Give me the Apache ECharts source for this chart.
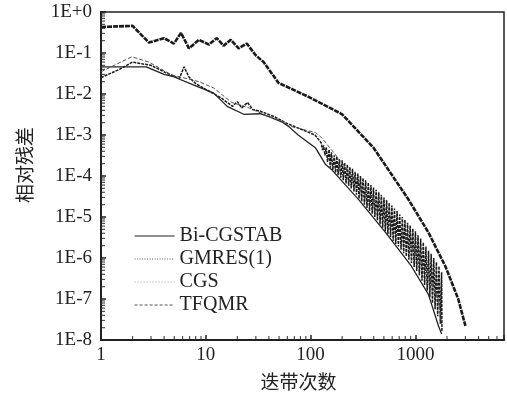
<!DOCTYPE html>
<html>
<head>
<meta charset="utf-8">
<script src="https://cdn.jsdelivr.net/npm/echarts@6/dist/echarts.min.js"></script>
<style>
  html, body { margin: 0; padding: 0; background: #fff; }
  #chart { width: 507px; height: 396px; }
</style>
</head>
<body>
<div id="chart"></div>
<script>
// tick labels
const xTickLabels = ['1', '10', '100', '1000'];
const yTickLabels = ['1E+0', '1E-1', '1E-2', '1E-3', '1E-4', '1E-5', '1E-6', '1E-7', '1E-8'];

// minor tick mantissas per decade
const minorMantissas = [2, 3, 4, 5, 6, 7, 8, 9];

// [iteration, relative residual]
const biCgstab = [
  [1, 4.6e-2], [2.7, 4.6e-2], [4, 3.0e-2], [5, 2.6e-2], [7.7, 1.65e-2], [11.9, 1.05e-2],
  [16, 5.0e-3], [23, 3.2e-3], [33, 3.3e-3], [40, 2.8e-3], [53, 2.1e-3], [62, 1.6e-3],
  [76, 1.0e-3], [111, 4.9e-4], [139, 1.9e-4], [158, 1.45e-4], [286, 2.7e-5], [518, 4.2e-6],
  [916, 6.3e-7], [1330, 1.3e-7], [1660, 2.2e-8], [1780, 1.4e-8]
];

const gmres1 = [
  [1, 0.43], [2, 0.46], [2.86, 0.18], [4, 0.23], [4.96, 0.17], [5.8, 0.31], [6.9, 0.13],
  [8.6, 0.21], [10.7, 0.16], [12.7, 0.23], [14.8, 0.15], [17.3, 0.21], [20.6, 0.13],
  [24.6, 0.17], [29.8, 0.089], [35.6, 0.06], [49.5, 0.0186], [68.8, 0.0126], [95.6, 8.5e-3],
  [200, 3.2e-3], [398, 4.9e-4], [856, 2.7e-5], [1330, 4.2e-6], [1930, 6.3e-7],
  [2560, 1.0e-7], [3000, 2.2e-8]
];

// early part, then the oscillating band down to convergence
const cgs = [
  [1, 2.5e-2], [1.5, 4.0e-2], [2, 6.0e-2], [3, 5.0e-2], [4.5, 3.0e-2], [5.6, 2.4e-2],
  [6.2, 4.6e-2], [6.9, 2.6e-2], [8, 1.8e-2], [10, 1.3e-2], [14, 8.0e-3], [18, 5.0e-3],
  [20, 6.5e-3], [22, 4.6e-3], [25, 6.2e-3], [28, 4.2e-3], [33, 3.8e-3], [45, 2.8e-3],
  [60, 1.9e-3], [80, 1.4e-3], [110, 1.0e-3],
  [126, 6.5e-4], [130, 4.3e-4], [133, 5.6e-4], [137, 3.2e-4], [141, 5.0e-4], [145, 2.2e-4],
  [150, 4.4e-4], [154, 1.6e-4], [158, 3.8e-4], [163, 1.4e-4], [168, 3.2e-4], [173, 1.2e-4],
  [178, 3.0e-4], [183, 1.05e-4], [188, 2.6e-4], [194, 9.1e-5], [200, 2.4e-4], [205, 7.9e-5],
  [211, 2.1e-4], [218, 6.6e-5], [224, 1.9e-4], [231, 5.8e-5], [237, 1.66e-4], [244, 5.0e-5],
  [251, 1.5e-4], [259, 4.2e-5], [266, 1.26e-4], [274, 3.5e-5], [282, 1.15e-4], [290, 2.8e-5],
  [299, 1.0e-4], [307, 2.4e-5], [316, 8.9e-5], [326, 2.0e-5], [335, 7.9e-5], [345, 1.66e-5],
  [355, 6.9e-5], [365, 1.4e-5], [376, 6.0e-5], [387, 1.2e-5], [398, 5.2e-5], [410, 1.0e-5],
  [422, 4.6e-5], [434, 8.3e-6], [447, 4.0e-5], [460, 6.6e-6], [473, 3.5e-5], [487, 5.5e-6],
  [501, 3.0e-5], [516, 4.5e-6], [531, 2.6e-5], [546, 3.8e-6], [562, 2.2e-5], [579, 3.2e-6],
  [596, 1.9e-5], [613, 2.6e-6], [631, 1.6e-5], [649, 2.2e-6], [668, 1.4e-5], [688, 1.9e-6],
  [708, 1.15e-5], [729, 1.6e-6], [750, 1.0e-5], [772, 1.3e-6], [794, 8.5e-6], [818, 1.1e-6],
  [841, 7.2e-6], [866, 9.1e-7], [891, 6.2e-6], [917, 7.6e-7], [944, 5.2e-6], [972, 6.0e-7],
  [1000, 4.5e-6], [1029, 4.8e-7], [1059, 3.6e-6], [1090, 3.8e-7], [1122, 3.0e-6], [1155, 2.8e-7],
  [1189, 2.4e-6], [1223, 2.2e-7], [1259, 1.9e-6], [1296, 1.6e-7], [1334, 1.5e-6], [1372, 1.1e-7],
  [1413, 1.26e-6], [1454, 7.9e-8], [1496, 1.0e-6], [1540, 5.6e-8], [1585, 7.9e-7], [1631, 3.8e-8],
  [1679, 6.3e-7], [1728, 2.5e-8], [1778, 4.5e-7], [1790, 1.6e-8]
];

const tfqmr = [
  [1, 3.5e-2], [1.97, 8.1e-2], [2.86, 6.0e-2], [4.7, 2.95e-2], [8.6, 2.0e-2], [11.9, 1.4e-2],
  [17.7, 6.2e-3], [25.7, 4.6e-3], [40, 2.8e-3], [53, 2.2e-3], [62, 1.66e-3], [111, 1.15e-3],
  [128, 8.5e-4], [246, 1.07e-4], [444, 2.0e-5], [770, 3.7e-6], [1200, 6.9e-7], [1660, 1.0e-7],
  [1800, 1.8e-8]
];

const X_MIN = 1, X_MAX = 7000, Y_MIN = 1e-8, Y_MAX = 1;

// minor tick marks placed on the axes through the log scales
const xMinor = [];
[1, 10, 100, 1000].forEach(d => minorMantissas.forEach(m => {
  if (d * m < X_MAX) xMinor.push([d * m, Y_MIN]);
}));
const yMinor = [];
for (let e = -8; e < 0; e++) {
  minorMantissas.forEach(m => yMinor.push([X_MIN, m * Math.pow(10, e)]));
}

const serif = '"Liberation Serif", "DejaVu Serif", serif';
const cjk = '"Noto Sans CJK SC", sans-serif';

const chart = echarts.init(document.getElementById('chart'));

const option = {
  animation: false,
  backgroundColor: '#fff',
  grid: {
    left: 101, right: 2, top: 12, bottom: 55,
    show: true, borderColor: '#222', borderWidth: 1.5
  },
  legend: {
    orient: 'vertical',
    left: 129, top: 221,
    itemWidth: 40, itemHeight: 10, itemGap: 3,
    itemStyle: { opacity: 0 },
    textStyle: { fontFamily: serif, fontSize: 20, color: '#222' },
    data: [
      { name: 'Bi-CGSTAB', lineStyle: { color: '#222', width: 1.2, type: 'solid' } },
      { name: 'GMRES(1)', lineStyle: { color: '#555', width: 1, type: [1, 1.5] } },
      { name: 'CGS', lineStyle: { color: '#999', width: 1, type: [1, 2] } },
      { name: 'TFQMR', lineStyle: { color: '#555', width: 1, type: [3, 2] } }
    ]
  },
  xAxis: {
    type: 'log', logBase: 10, min: X_MIN, max: X_MAX,
    name: '迭带次数', nameLocation: 'middle', nameGap: 32,
    nameTextStyle: { fontFamily: cjk, fontSize: 19, color: '#222', padding: [0, 8, 0, 0] },
    axisLine: { lineStyle: { color: '#222', width: 2 } },
    axisTick: { inside: true, length: 5, lineStyle: { color: '#222', width: 1.5 } },
    axisLabel: {
      fontFamily: serif, fontSize: 19, color: '#222', margin: 6,
      formatter: v => {
        const e = Math.round(Math.log10(v));
        return Math.abs(Math.log10(v) - e) < 1e-6 && xTickLabels[e] !== undefined ? xTickLabels[e] : '';
      }
    },
    splitLine: { show: false }
  },
  yAxis: {
    type: 'log', logBase: 10, min: Y_MIN, max: Y_MAX,
    name: '相对残差', nameLocation: 'middle', nameGap: 67, nameRotate: 90,
    nameTextStyle: { fontFamily: cjk, fontSize: 19, color: '#222', padding: [0, 0, 0, 22] },
    axisLine: { lineStyle: { color: '#222', width: 2 } },
    axisTick: { inside: true, length: 5, lineStyle: { color: '#222', width: 1.5 } },
    axisLabel: {
      fontFamily: serif, fontSize: 19, color: '#222', margin: 9,
      formatter: v => {
        const e = Math.round(Math.log10(v));
        return yTickLabels[-e] !== undefined ? yTickLabels[-e] : '';
      }
    },
    splitLine: { show: false }
  },
  series: [
    {
      name: 'CGS', type: 'line', data: cgs, symbol: 'none', z: 2,
      lineStyle: { color: '#1a1a1a', width: 1.5, type: [3, 1] }
    },
    {
      name: 'Bi-CGSTAB', type: 'line', data: biCgstab, symbol: 'none', z: 3,
      lineStyle: { color: '#222', width: 1.3, type: 'solid' }
    },
    {
      name: 'GMRES(1)', type: 'line', data: gmres1, symbol: 'none', z: 3,
      lineStyle: { color: '#1a1a1a', width: 2.6, type: [5, 1] }
    },
    {
      name: 'TFQMR', type: 'line', data: tfqmr, symbol: 'none', z: 3,
      lineStyle: { color: '#555', width: 1, type: [4, 2] }
    },
    {
      type: 'scatter', data: xMinor, symbol: 'rect', symbolSize: [1.2, 4],
      symbolOffset: [0, -2], itemStyle: { color: '#222' }, silent: true, z: 5
    },
    {
      type: 'scatter', data: yMinor, symbol: 'rect', symbolSize: [4, 1.2],
      symbolOffset: [2, 0], itemStyle: { color: '#222' }, silent: true, z: 5
    }
  ]
};

chart.setOption(option);
</script>
</body>
</html>
